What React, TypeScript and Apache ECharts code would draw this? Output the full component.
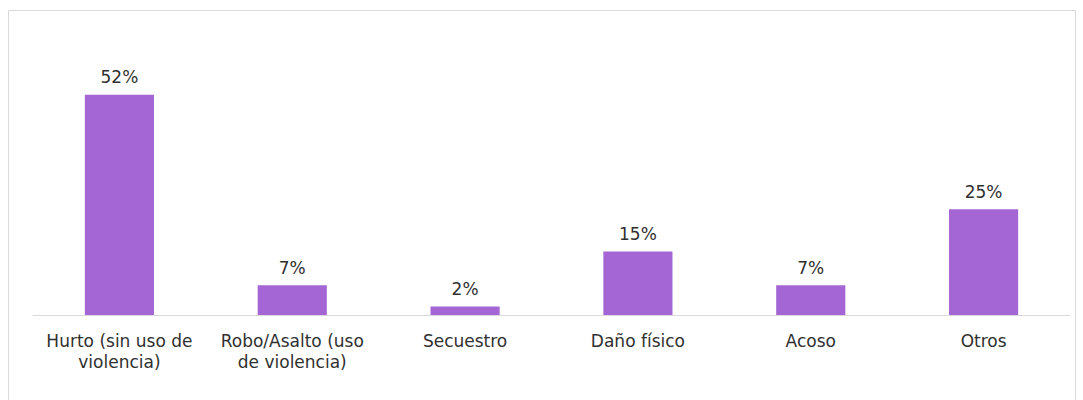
import React, { useEffect, useRef } from "react";
import * as echarts from "echarts";

const categories = [
  "Hurto (sin uso de\nviolencia)",
  "Robo/Asalto (uso\nde violencia)",
  "Secuestro",
  "Daño físico",
  "Acoso",
  "Otros",
];
const values = [52, 7, 2, 15, 7, 25];

export default function App() {
  const ref = useRef<HTMLDivElement>(null);
  useEffect(() => {
    if (!ref.current) return;
    const chart = echarts.init(ref.current, undefined, { renderer: "svg" });
    const font = "'DejaVu Sans', sans-serif";
    chart.setOption({
      animation: false,
      backgroundColor: "#ffffff",
      grid: { left: 33, right: 13, top: 61, bottom: 85 },
      graphic: [
        {
          type: "rect",
          shape: { x: 8.5, y: 10.5, width: 1067, height: 400 },
          style: { fill: "none", stroke: "#d9d9d9", lineWidth: 1 },
          silent: true,
        },
      ],
      xAxis: {
        type: "category",
        data: categories,
        axisLine: { lineStyle: { color: "#d9d9d9", width: 1 } },
        axisTick: { show: false },
        axisLabel: {
          color: "#303030",
          fontFamily: font,
          fontSize: 17,
          lineHeight: 21,
          margin: 15,
          interval: 0,
        },
      },
      yAxis: {
        type: "value",
        min: 0,
        max: 60,
        show: false,
        splitLine: { show: false },
      },
      series: [
        {
          type: "bar",
          data: values,
          barWidth: "40%",
          itemStyle: { color: "#a366d4" },
          label: {
            show: true,
            position: "top",
            distance: 9,
            formatter: "{c}%",
            color: "#303030",
            fontFamily: font,
            fontSize: 17,
          },
        },
      ],
    });
    return () => chart.dispose();
  }, []);
  return (
    <div
      ref={ref}
      style={{ position: "absolute", left: 0, top: 0, width: 1083, height: 400 }}
    />
  );
}
